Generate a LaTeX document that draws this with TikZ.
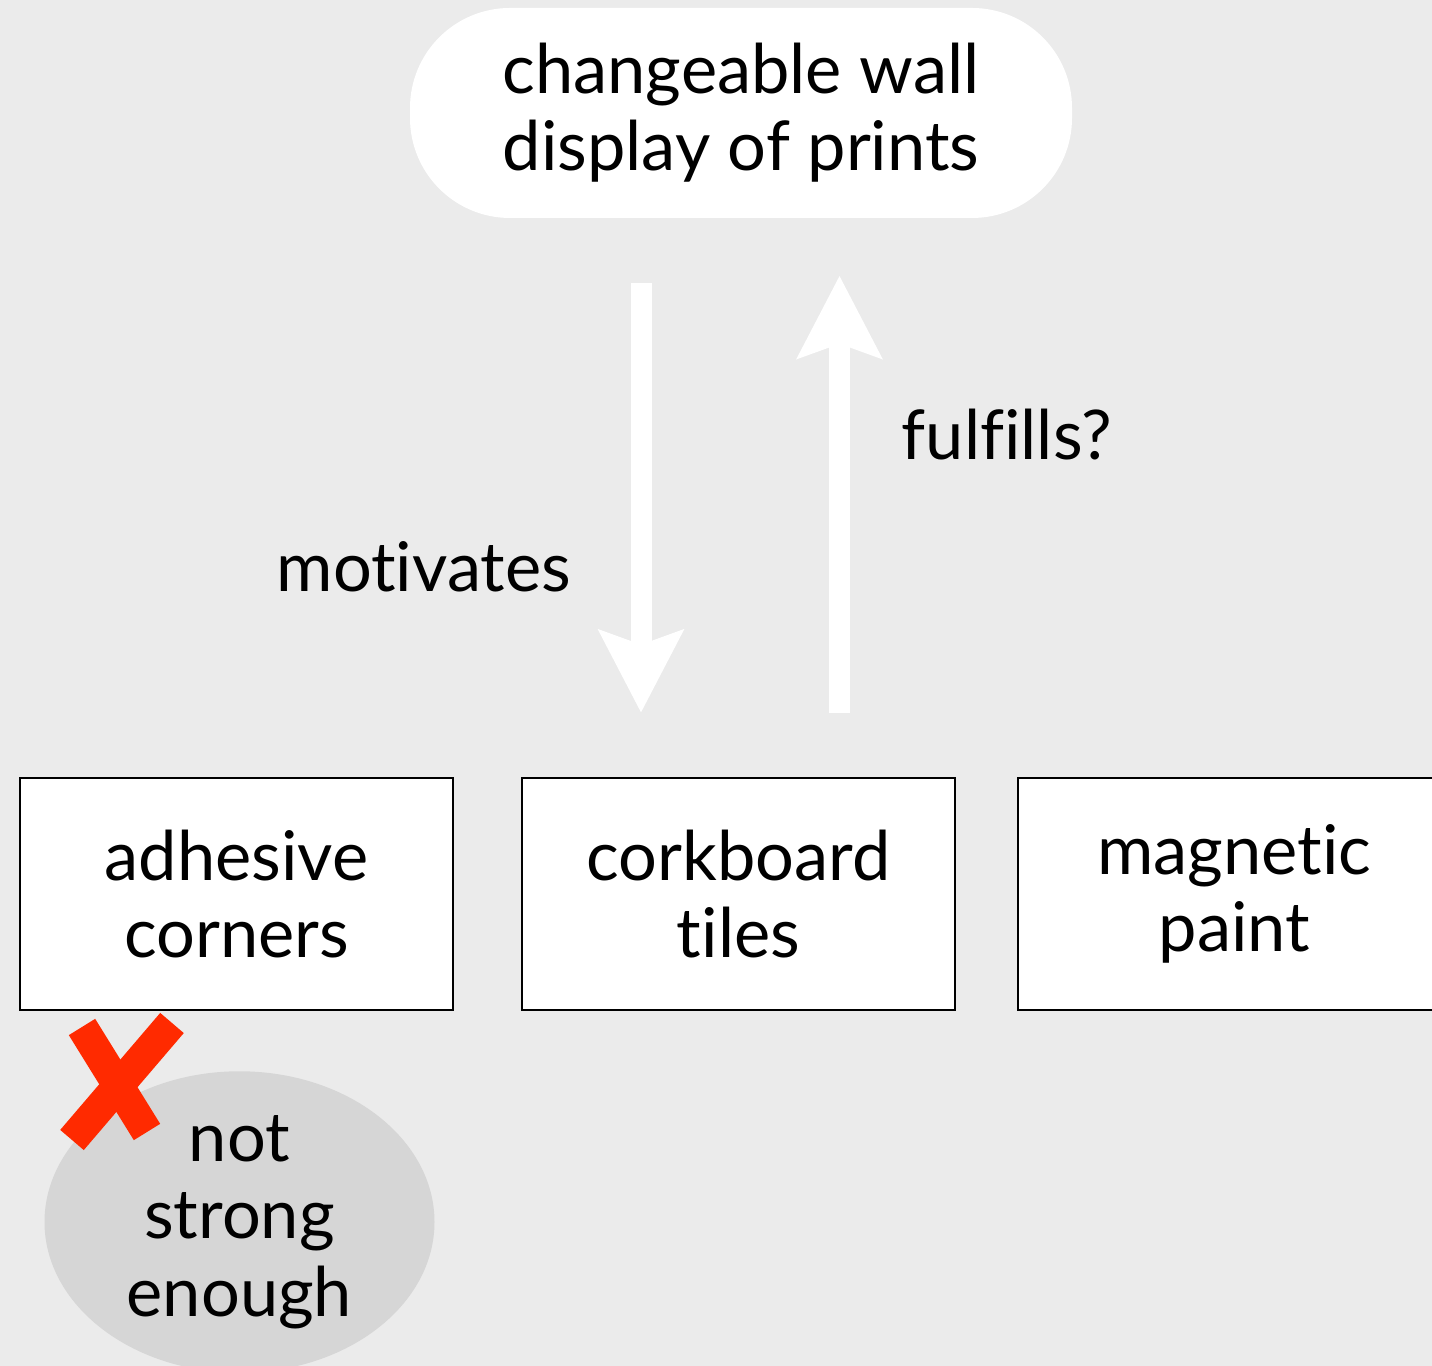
\documentclass[tikz,border=0pt]{standalone}
\usepackage{fontspec}
\setmainfont{Lato}[Ligatures=NoCommon]
\usetikzlibrary{arrows.meta,positioning,shapes.geometric}
\definecolor{paper}{HTML}{EBEBEB}
\definecolor{shade}{HTML}{D6D6D6}
\definecolor{veto}{HTML}{FF2A00}
\tikzset{goal/.style={fill=white,rounded corners=1cm,align=center,minimum width=6.62cm,minimum height=2.1cm}, option/.style={draw=black,line width=0.7pt,fill=white,align=center,minimum width=4.33cm,minimum height=2.32cm},verdict/.style={ellipse,fill=shade,align=center,minimum width=3.9cm,minimum height=2.9cm,inner sep=0pt},flow/.style={-{Stealth[length=8.2mm,width=8.3mm,inset=1.4mm]},line width=2.1mm,draw=white},cross/.style={draw=veto,line width=3.1mm}}
\begin{document}
\begin{tikzpicture}[x=1cm,y=1cm,font=\fontsize{19.5}{22}\selectfont]
\fill[paper](0,0)rectangle(14.32,13.66);\useasboundingbox(0,0)rectangle(14.32,13.66);\clip(0,0)rectangle(14.32,13.66);
\node[goal](wall)at(7.41,12.53){changeable wall\\display of prints};
\node[option](adh)at(2.365,4.72){adhesive\\corners};\node[option](cork)at(7.385,4.72){corkboard\\tiles};\node[option](mag)at(12.345,4.72){magnetic\\paint};
\node[verdict](weak)at(2.395,1.44){not\\strong\\enough};
\draw[flow,shorten <=6.4mm,shorten >=6.4mm]([xshift=-10mm]wall.south)--node[pos=.623,left=4.8mm]{motivates}([xshift=-10mm]wall.south|-cork.north);
\draw[flow,shorten <=6.4mm,shorten >=5.7mm]([xshift=9.85mm]wall.south|-cork.north)--node[pos=.6125,right=4mm]{fulfills?}([xshift=9.85mm]wall.south);
\draw[cross](0.82,3.39)--(1.47,2.34);\draw[cross](1.72,3.43)--(0.72,2.26);
\end{tikzpicture}
\end{document}
